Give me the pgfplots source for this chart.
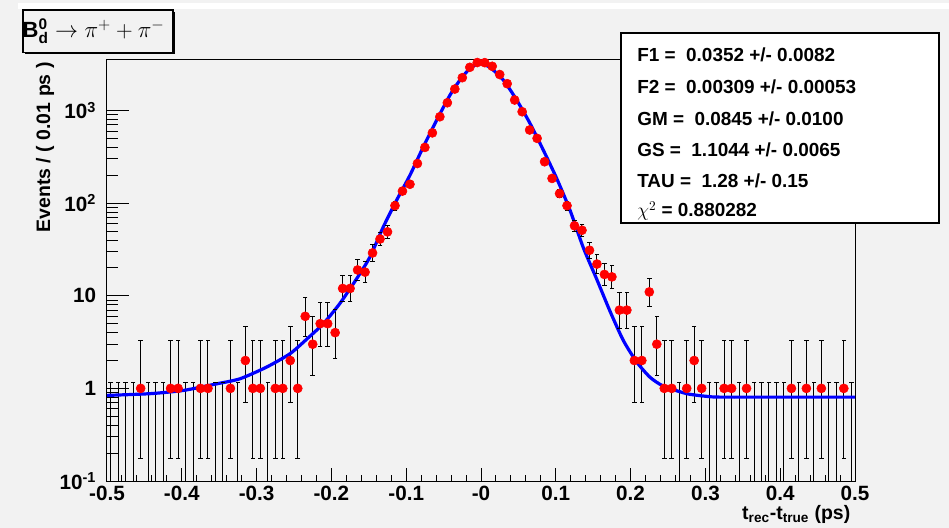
\documentclass[border=0pt]{standalone}
\usepackage{fontspec}
\setmainfont{Liberation Sans}
\usepackage{pgfplots}
\pgfplotsset{compat=1.18}
\usepackage{pgfplotstable}
\definecolor{bg}{RGB}{242,242,242}
\definecolor{rootblue}{RGB}{0,0,255}
\definecolor{rootred}{RGB}{255,0,0}

% bins with entries: x, n, minus, plus (Poisson interval)
\pgfplotstableread{
x y ym yp
-0.455 1 0.827 2.300
-0.415 1 0.827 2.300
-0.405 1 0.827 2.300
-0.375 1 0.827 2.300
-0.365 1 0.827 2.300
-0.335 1 0.827 2.300
-0.315 2 1.292 2.638
-0.305 1 0.827 2.300
-0.295 1 0.827 2.300
-0.275 1 0.827 2.300
-0.265 1 0.827 2.300
-0.255 2 1.292 2.638
-0.245 1 0.827 2.300
-0.235 6 2.380 3.584
-0.225 3 1.633 2.918
-0.215 5 2.160 3.382
-0.205 5 2.160 3.382
-0.195 4 1.914 3.163
-0.185 12 3.43 4.57
-0.175 12 3.43 4.57
-0.165 19 4.33 5.42
-0.155 18 4.22 5.30
-0.145 29 5.36 6.45
-0.135 41 6.38 7.46
-0.125 49 6.98 8.05
-0.115 94 9.7 10.7
-0.105 135 11.6 12.6
-0.095 160 12.6 13.6
-0.085 268 16.4 17.4
-0.075 400 20.0 21.0
-0.065 574 24.0 25.0
-0.055 857 29.3 30.3
-0.045 1214 34.8 35.8
-0.035 1708 41.3 42.3
-0.025 2264 47.6 48.6
-0.015 2930 54.1 55.1
-0.005 3300 57.4 58.4
0.005 3290 57.4 58.4
0.015 3005 54.8 55.8
0.025 2449 49.5 50.5
0.035 1950 44.2 45.2
0.045 1300 36.0 37.0
0.055 971 31.2 32.2
0.065 617 24.8 25.8
0.075 501 22.4 23.4
0.085 280 16.7 17.7
0.095 185 13.6 14.6
0.105 127 11.3 12.3
0.115 94 9.7 10.7
0.125 57 7.53 8.6
0.135 51 7.12 8.19
0.145 31 5.54 6.63
0.155 22 4.66 5.75
0.165 17 4.10 5.20
0.175 16 3.97 5.10
0.185 7 2.581 3.770
0.195 7 2.581 3.770
0.205 2 1.292 2.638
0.215 2 1.292 2.638
0.225 11 3.28 4.43
0.235 3 1.633 2.918
0.245 1 0.827 2.300
0.255 1 0.827 2.300
0.275 1 0.827 2.300
0.285 2 1.292 2.638
0.295 1 0.827 2.300
0.325 1 0.827 2.300
0.335 1 0.827 2.300
0.355 1 0.827 2.300
0.415 1 0.827 2.300
0.435 1 0.827 2.300
0.455 1 0.827 2.300
0.485 1 0.827 2.300
}\datatab

% empty bins: error bar from 0 up to 1.148
\pgfplotstableread{
x y ym yp
-0.495 1.148 1.147 0
-0.485 1.148 1.147 0
-0.475 1.148 1.147 0
-0.465 1.148 1.147 0
-0.445 1.148 1.147 0
-0.435 1.148 1.147 0
-0.425 1.148 1.147 0
-0.395 1.148 1.147 0
-0.385 1.148 1.147 0
-0.355 1.148 1.147 0
-0.345 1.148 1.147 0
-0.325 1.148 1.147 0
-0.285 1.148 1.147 0
0.265 1.148 1.147 0
0.305 1.148 1.147 0
0.315 1.148 1.147 0
0.345 1.148 1.147 0
0.365 1.148 1.147 0
0.375 1.148 1.147 0
0.385 1.148 1.147 0
0.395 1.148 1.147 0
0.405 1.148 1.147 0
0.425 1.148 1.147 0
0.445 1.148 1.147 0
0.465 1.148 1.147 0
0.475 1.148 1.147 0
0.495 1.148 1.147 0
}\zerotab

\begin{document}
\begin{tikzpicture}
% canvas
\fill[bg] (-80.25pt,-35.25pt) rectangle (631.5pt,360.75pt);
\useasboundingbox (-80.25pt,-35.25pt) rectangle (631.5pt,360.75pt);
\fill[white] (-66.75pt,354pt) rectangle (631.5pt,358.5pt);
\begin{axis}[
  at={(0,0)}, anchor=south west,
  scale only axis, width=561pt, height=315.75pt,
  xmin=-0.5, xmax=0.5,
  ymode=log, ymin=0.1, ymax=3515,
  axis background/.style={fill=bg},
  axis line style={black, line width=0.75pt},
  xtick={-0.5,-0.4,-0.3,-0.2,-0.1,0,0.1,0.2,0.3,0.4,0.5},
  xticklabels={-0.5,-0.4,-0.3,-0.2,-0.1,-0,0.1,0.2,0.3,0.4,0.5},
  minor x tick num=4,
  ytick={0.1,1,10,100,1000},
  yticklabels={10\textsuperscript{-1},1,10,10\textsuperscript{2},10\textsuperscript{3}},
  xtick pos=left, ytick pos=left,
  tick align=inside,
  every tick/.style={black, line width=0.75pt},
  major tick length=16.8pt, minor tick length=8.4pt,
  every major x tick/.append style={/pgfplots/major tick length=9.45pt},
  every minor x tick/.append style={/pgfplots/minor tick length=4.7pt},
  tick label style={font=\fontsize{15.5}{18}\selectfont\bfseries, inner sep=1pt},
  xticklabel style={yshift=-2.5pt},
  yticklabel style={xshift=-7pt},
  clip=true,
]
% error bars of empty bins
\addplot[draw=none, mark=none, forget plot,
  error bars/.cd, y dir=both, y explicit,
  error bar style={black, line width=0.75pt}, error mark=none]
  table[x=x, y=y, y error minus=ym, y error plus=yp] {\zerotab};
% error bars of filled bins
\addplot[draw=none, mark=none, forget plot,
  error bars/.cd, y dir=both, y explicit,
  error bar style={black, line width=0.75pt}, error mark=none]
  table[x=x, y=y, y error minus=ym, y error plus=yp] {\datatab};
% end caps
\addplot[only marks, mark=-, mark size=1.7pt, mark options={black, line width=0.75pt}, forget plot]
  table[x=x, y expr=\thisrow{y}+\thisrow{yp}] {\zerotab};
\addplot[only marks, mark=-, mark size=1.7pt, mark options={black, line width=0.75pt}, forget plot]
  table[x=x, y expr=\thisrow{y}+\thisrow{yp}] {\datatab};
\addplot[only marks, mark=-, mark size=1.7pt, mark options={black, line width=0.75pt}, forget plot]
  table[x=x, y expr=\thisrow{y}-\thisrow{ym}] {\datatab};
% points
\addplot[only marks, mark=*, mark size=3.4pt, mark options={fill=rootred, draw=rootred}]
  table[x=x, y=y] {\datatab};
% fit curve
\addplot[rootblue, line width=2.4pt, smooth, tension=0.4] coordinates {
(-0.5,0.84) (-0.4425,0.877) (-0.398,0.95) (-0.3533,1.12) (-0.3222,1.27)
(-0.2865,1.70) (-0.2553,2.37) (-0.233,3.4) (-0.2108,5.0) (-0.1885,8.3)
(-0.1662,15.3) (-0.1484,26.3) (-0.1306,55.5) (-0.1127,108) (-0.0949,201)
(-0.0771,406) (-0.0592,789) (-0.0414,1472) (-0.0281,2137) (-0.0147,2858)
(-0.002,3230) (0.012,2920) (0.0298,2137) (0.0477,1300) (0.0655,727)
(0.0833,374) (0.1012,185) (0.119,84) (0.1368,33) (0.1547,15.1)
(0.1725,6.8) (0.1902,3.3) (0.2081,1.93) (0.2259,1.32) (0.2437,1.06)
(0.275,0.877) (0.3017,0.82) (0.3195,0.805) (0.4,0.805) (0.5,0.805)
};
\end{axis}
% axis titles
\node[rotate=90, anchor=east, font=\fontsize{14.6}{16}\selectfont\bfseries] at (-46.5pt,317.5pt) {Events / ( 0.01 ps )};
\node[anchor=base east, font=\fontsize{14.6}{16}\selectfont\bfseries] at (561pt,-29.25pt) {t\textsubscript{rec}-t\textsubscript{true} (ps)};
% title box
\fill[black] (-61.5pt,320pt) rectangle (51pt,351.75pt);
\draw[black, line width=0.9pt, fill=bg] (-63pt,321.5pt) rectangle (49.5pt,353.25pt);
\node[font=\fontsize{16.5}{20}\selectfont\bfseries] at (-10pt,337.5pt) {B$_{\mathbf{d}}^{\mathbf{0}}\rightarrow\pi^{+}+\pi^{-}$};
% stats box
\draw[black, line width=0.9pt, fill=white] (385.5pt,193.5pt) rectangle (624pt,336pt);
\begin{scope}[every node/.style={anchor=base west, font=\fontsize{14.2}{16}\selectfont\bfseries, inner sep=0pt}]
\node at (397.5pt,314.5pt) {F1 =\ \ 0.0352 +/- 0.0082};
\node at (397.5pt,290.5pt) {F2 =\ \ 0.00309 +/- 0.00053};
\node at (397.5pt,266.5pt) {GM =\ \ 0.0845 +/- 0.0100};
\node at (397.5pt,243pt) {GS =\ \ 1.1044 +/- 0.0065};
\node at (397.5pt,220pt) {TAU =\ \ 1.28 +/- 0.15};
\node at (397.5pt,198pt) {$\chi^{2}$ = 0.880282};
\end{scope}
\end{tikzpicture}
\end{document}
